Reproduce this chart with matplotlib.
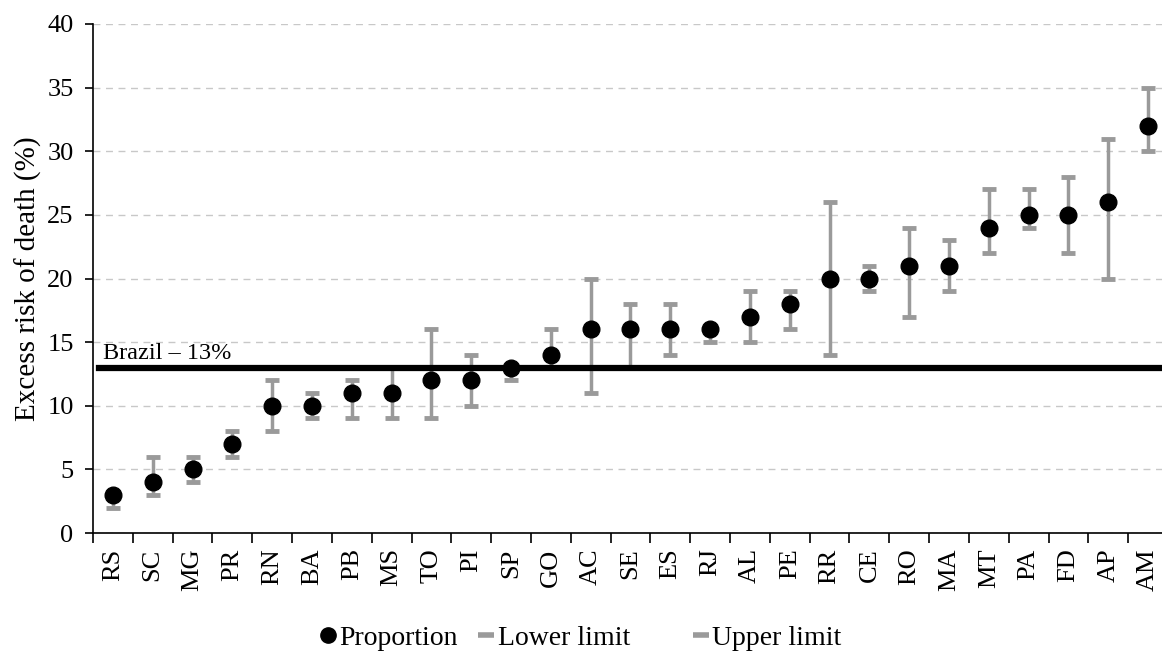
import numpy as np
import matplotlib.pyplot as plt
from matplotlib.lines import Line2D

plt.rcParams['font.family'] = ['Liberation Serif', 'DejaVu Serif']

states = ['RS', 'SC', 'MG', 'PR', 'RN', 'BA', 'PB', 'MS', 'TO', 'PI', 'SP', 'GO', 'AC', 'SE',
          'ES', 'RJ', 'AL', 'PE', 'RR', 'CE', 'RO', 'MA', 'MT', 'PA', 'FD', 'AP', 'AM']
proportion = [3, 4, 5, 7, 10, 10, 11, 11, 12, 12, 13, 14, 16, 16, 16, 16, 17, 18, 20, 20, 21, 21, 24, 25, 25, 26, 32]
lower_limit = [2, 3, 4, 6, 8, 9, 9, 9, 9, 10, 12, 13, 11, 13, 14, 15, 15, 16, 14, 19, 17, 19, 22, 24, 22, 20, 30]
upper_limit = [3, 6, 6, 8, 12, 11, 12, 13, 16, 14, 13, 16, 20, 18, 18, 16, 19, 19, 26, 21, 24, 23, 27, 27, 28, 31, 35]
brazil = 13

x = np.arange(len(states))
prop = np.array(proportion)
lo = np.array(lower_limit)
up = np.array(upper_limit)

fig = plt.figure(figsize=(11.62, 6.53), dpi=100)
ax = fig.add_axes([93 / 1162, 120 / 653, 1075 / 1162, 509 / 653])

gray = '#9a9a9a'
ax.errorbar(x, prop, yerr=[prop - lo, up - prop], fmt='none', ecolor=gray,
            elinewidth=2.5, capsize=5, capthick=3.5, zorder=3)
ax.plot(x, prop, 'o', color='black', ms=12, zorder=4)

# national reference line
ax.axhline(brazil, xmin=0.006, xmax=1, color='black', lw=4.5, zorder=5)
ax.text(-0.25, brazil + 0.3, 'Brazil – 13%', fontsize=17.5, ha='left', va='bottom')

ax.set_xlim(-0.5, len(states) - 0.5)
ax.set_ylim(0, 40)
ax.set_yticks(np.arange(0, 41, 5))
ax.yaxis.grid(True, ls=(0, (5, 4)), color='#c8c8c8', lw=1)
ax.set_axisbelow(True)

ax.set_xticks(x)
ax.set_xticklabels(states, rotation=90, fontsize=19)
ax.set_xticks(np.arange(-0.5, len(states), 1), minor=True)
ax.tick_params(axis='x', which='major', length=0, pad=11)
ax.tick_params(axis='x', which='minor', length=7, width=1.2, direction='out')
ax.tick_params(axis='y', labelsize=19, length=6, width=1.2, direction='out', pad=8)
ax.set_ylabel('Excess risk of death (%)', fontsize=21, labelpad=4)

for s in ['top', 'right']:
    ax.spines[s].set_visible(False)
ax.spines['left'].set_linewidth(1.2)
ax.spines['bottom'].set_linewidth(1.2)

handles = [
    Line2D([], [], marker='o', color='black', ls='none', ms=11),
    Line2D([], [], marker='_', color=gray, ls='none', ms=11, mew=4),
    Line2D([], [], marker='_', color=gray, ls='none', ms=11, mew=4),
]
fig.legend(handles, ['Proportion', 'Lower limit      ', 'Upper limit'], loc='center',
           bbox_to_anchor=(0.5, 1 - 638 / 653), ncol=3, frameon=False, fontsize=20,
           handlelength=0.5, handletextpad=0.15, columnspacing=0.8)

fig.savefig('out.png', dpi=100)
